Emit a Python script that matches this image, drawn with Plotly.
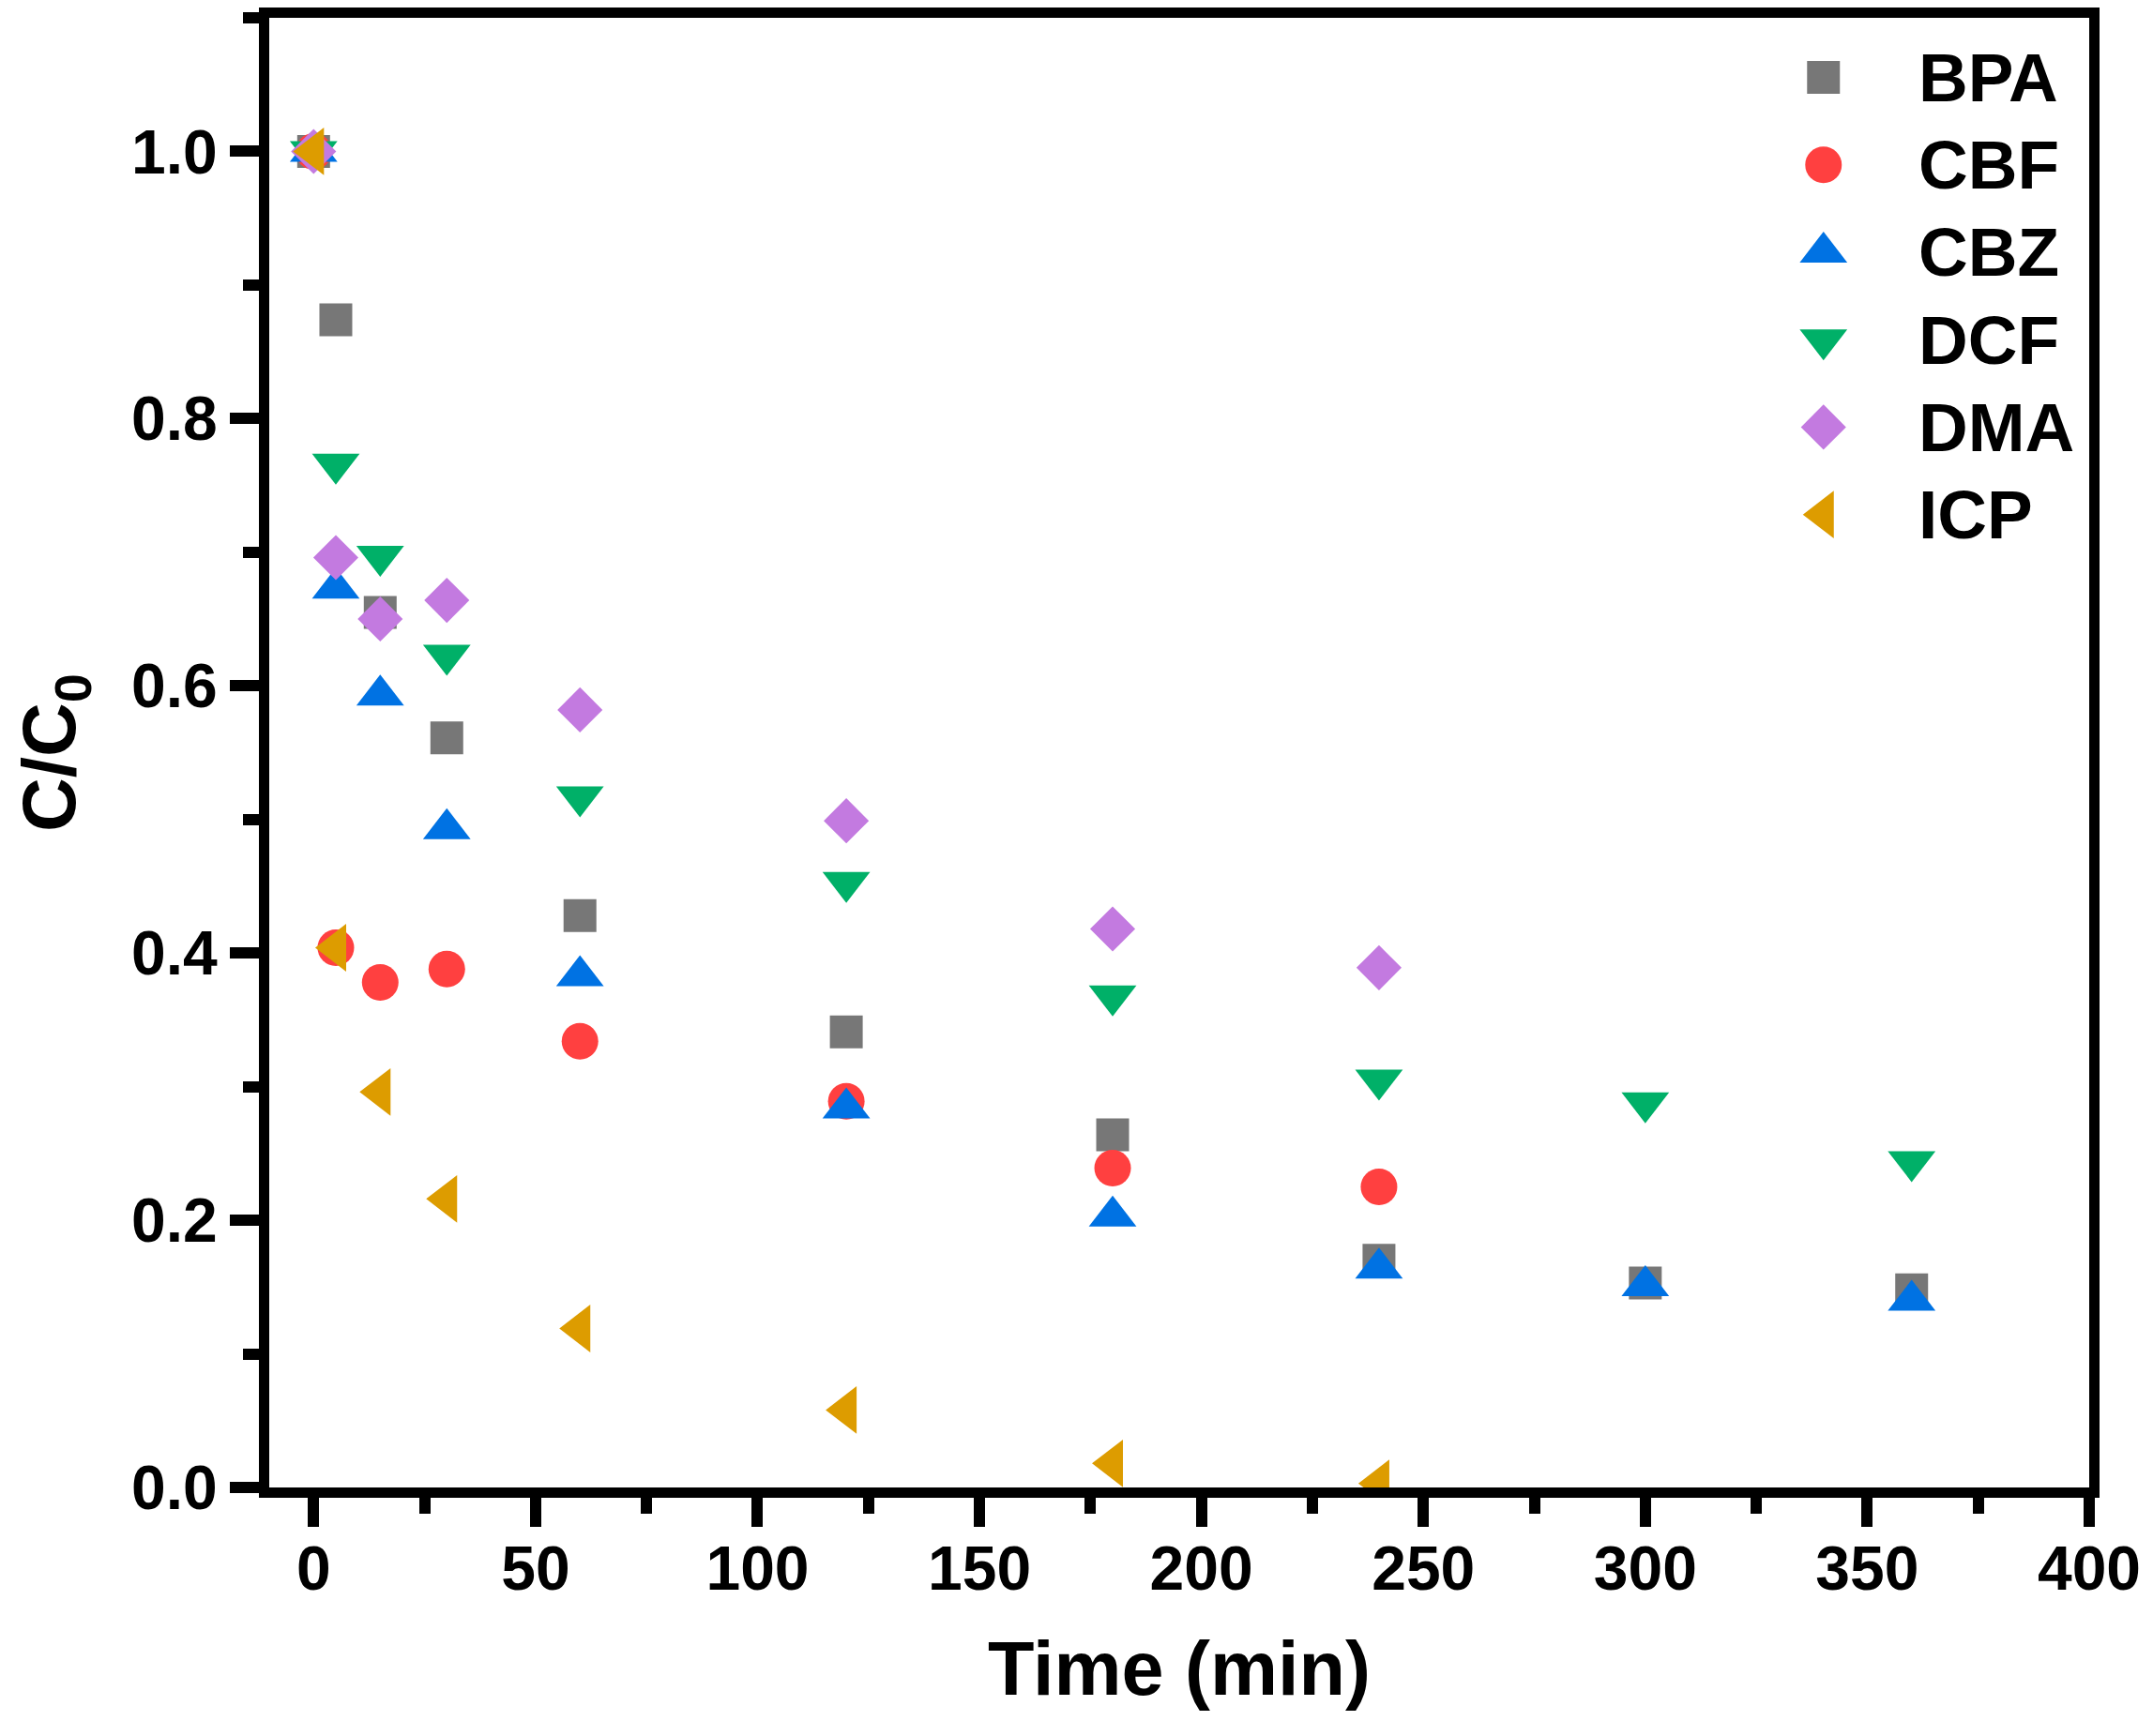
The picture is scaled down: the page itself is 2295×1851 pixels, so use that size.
import plotly.graph_objects as go

# sampling times (min)
time = [0, 5, 15, 30, 60, 120, 180, 240, 300, 360]

# C/C0 for each compound (CBF, DMA, ICP stop at 240 min)
bpa = [1.0, 0.874, 0.655, 0.561, 0.428, 0.341, 0.264, 0.170, 0.153, 0.148]
cbf = [1.0, 0.404, 0.378, 0.388, 0.334, 0.289, 0.239, 0.225]
cbz = [1.0, 0.673, 0.593, 0.493, 0.383, 0.284, 0.203, 0.164, 0.151, 0.140]
dcf = [1.0, 0.766, 0.697, 0.623, 0.517, 0.453, 0.368, 0.305, 0.288, 0.244]
dma = [1.0, 0.696, 0.650, 0.664, 0.582, 0.499, 0.418, 0.389]
icp = [1.0, 0.404, 0.296, 0.216, 0.119, 0.058, 0.018, 0.003]

names = ['BPA', 'CBF', 'CBZ', 'DCF', 'DMA', 'ICP']
series = [bpa, cbf, cbz, dcf, dma, icp]
colors = ['#777777', '#FF4040', '#0072E3', '#00B068', '#C37AE0', '#DD9C00']
symbols = ['square', 'circle', 'triangle-up', 'triangle-down', 'diamond', 'triangle-left']
sizes = [35, 39, 44, 44, 37, 44]

FONT = 'Liberation Sans, Arial, sans-serif'

fig = go.Figure()

for name, vals, col, sym, sz in zip(names, series, colors, symbols, sizes):
    fig.add_trace(go.Scatter(x=time[:len(vals)], y=vals, name=name, mode='markers',
                             marker=dict(symbol=sym, size=sz, color=col, line=dict(width=0)),
                             showlegend=False))

# big-symbol legend drawn on a hidden overlay axis (plotly caps legend symbols at 16px)
leg_top, leg_step = 0.9595, 0.0595
for i, (name, col, sym, sz) in enumerate(zip(names, colors, symbols, sizes)):
    ly = leg_top - i * leg_step
    fig.add_trace(go.Scatter(x=[0.854], y=[ly], mode='markers', xaxis='x2', yaxis='y2',
                             marker=dict(symbol=sym, size=sz, color=col, line=dict(width=0)),
                             showlegend=False, hoverinfo='skip', cliponaxis=False))
    fig.add_annotation(x=0.905, y=ly, xref='paper', yref='paper', text='<b>%s</b>' % name,
                       showarrow=False, xanchor='left', yanchor='middle',
                       font=dict(family=FONT, size=73, color='black'))

axis_common = dict(showline=True, linewidth=11, linecolor='black', mirror=True,
                   ticks='outside', ticklen=31, tickwidth=12, tickcolor='black',
                   showgrid=False, zeroline=False, automargin=False,
                   tickfont=dict(family=FONT, size=66, color='black', weight='bold'))

fig.update_layout(
    width=2295, height=1851,
    margin=dict(l=279, r=76, t=11, b=273),
    plot_bgcolor='white', paper_bgcolor='white',
    xaxis=dict(range=[-10, 400], dtick=50, tick0=0, ticklabelstandoff=-12,
               minor=dict(ticks='outside', ticklen=17, tickwidth=12, tickcolor='black', dtick=25),
               title=dict(text='Time (min)', standoff=47,
                          font=dict(family=FONT, size=81, color='black', weight='bold')),
               **axis_common),
    yaxis=dict(range=[0, 1.1], dtick=0.2, tick0=0, tickformat='.1f',
               minor=dict(ticks='outside', ticklen=17, tickwidth=12, tickcolor='black', dtick=0.1),
               title=dict(text='C/C<sub>0</sub>', standoff=55,
                          font=dict(family=FONT, size=80, color='black', weight='bold')),
               **axis_common),
    xaxis2=dict(range=[0, 1], overlaying='x', visible=False, anchor='y2'),
    yaxis2=dict(range=[0, 1], overlaying='y', visible=False, anchor='x2'),
)

fig.write_html("out.html")
